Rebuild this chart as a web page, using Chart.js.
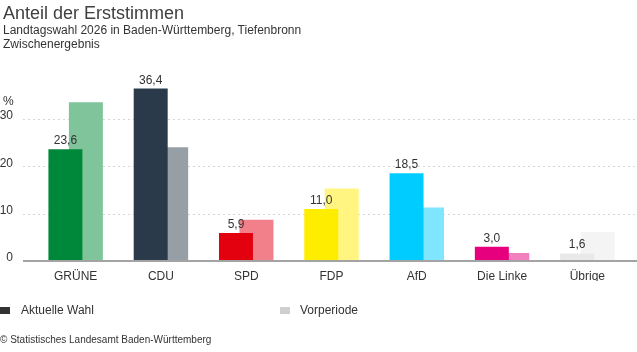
<!DOCTYPE html>
<html>
<head>
<meta charset="utf-8">
<script src="https://cdn.jsdelivr.net/npm/chart.js@4"></script>
<style>
    body { margin: 0; background: #fff; font-family: "Liberation Sans", Arial, sans-serif; color: #333; }
    #wrap { position: relative; width: 637px; height: 352px; overflow: hidden; }
    #chart { position: absolute; left: 0; top: 0; }
    .txt { position: absolute; white-space: nowrap; }
    .sq { position: absolute; width: 10px; height: 7px; }
</style>
</head>
<body>
<div id="wrap">
    <canvas id="chart" width="637" height="352"></canvas>
    <div class="txt" style="left:3px; top:3px; font-size:18px; line-height:20px; color:#404040;">Anteil der Erststimmen</div>
    <div class="txt" style="left:3px; top:23px; font-size:12px; line-height:14px;">Landtagswahl 2026 in Baden-Württemberg, Tiefenbronn</div>
    <div class="txt" style="left:3px; top:37px; font-size:12px; line-height:14px;">Zwischenergebnis</div>
    <div class="txt" style="left:3px; top:94px; font-size:12px; line-height:14px;">%</div>
    <div class="sq" style="left:0px; top:307px; background:#333;"></div>
    <div class="txt" style="left:21px; top:303px; font-size:12px; line-height:14px;">Aktuelle Wahl</div>
    <div class="sq" style="left:280px; top:307px; background:#cfcfcf;"></div>
    <div class="txt" style="left:300px; top:303px; font-size:12px; line-height:14px;">Vorperiode</div>
    <div class="txt" style="left:0px; top:334px; font-size:10px; line-height:12px;">© Statistisches Landesamt Baden-Württemberg</div>
</div>
<script>
    // Parteien und Ergebnisse (Erststimmen in %)
    const parties = ['GRÜNE', 'CDU', 'SPD', 'FDP', 'AfD', 'Die Linke', 'Übrige'];
    const currentShare = [23.6, 36.4, 5.9, 11.0, 18.5, 3.0, 1.6];
    const previousShare = [33.5, 24.0, 8.7, 15.3, 11.3, 1.7, 6.1];
    const yTicks = [0, 10, 20, 30];

    const currentColors = ['#00883a', '#2b3a4a', '#e3000f', '#ffed00', '#00ccff', '#e6007e', '#e9e9e9'];
    const previousColors = ['#80c49c', '#969ea6', '#f1808a', '#fff580', '#80e5ff', '#f280be', '#f4f4f4'];

    const fmt = v => v.toFixed(1).replace('.', ',');

    // Gitterlinien und Grundlinie selbst zeichnen (beginnen links vor der Chart-Fläche)
    const gridPlugin = {
        id: 'gridLines',
        beforeDatasetsDraw(chart) {
            const ctx = chart.ctx;
            const y = chart.scales.y;
            ctx.save();
            ctx.strokeStyle = '#d6d6d6';
            ctx.lineWidth = 1;
            ctx.setLineDash([2, 3]);
            yTicks.forEach(t => {
                if (t === 0) return;
                const py = Math.round(y.getPixelForValue(t)) + 0.5;
                ctx.beginPath();
                ctx.moveTo(23, py);
                ctx.lineTo(chart.width, py);
                ctx.stroke();
            });
            ctx.restore();
        },
        afterDatasetsDraw(chart) {
            const ctx = chart.ctx;
            const y = chart.scales.y;
            const py = y.getPixelForValue(0);
            ctx.save();
            ctx.strokeStyle = '#a3a3a3';
            ctx.lineWidth = 2;
            ctx.beginPath();
            ctx.moveTo(23, py);
            ctx.lineTo(chart.width, py);
            ctx.stroke();

            // Werte über den aktuellen Balken
            ctx.fillStyle = '#333';
            ctx.font = '12px "Liberation Sans", Arial, sans-serif';
            ctx.textAlign = 'center';
            ctx.textBaseline = 'alphabetic';
            chart.getDatasetMeta(0).data.forEach((bar, i) => {
                ctx.fillText(fmt(currentShare[i]), bar.x, bar.y - 5);
            });
            ctx.restore();
        }
    };

    new Chart(document.getElementById('chart').getContext('2d'), {
        type: 'bar',
        data: {
            labels: parties,
            datasets: [
                {
                    label: 'Aktuelle Wahl',
                    data: currentShare,
                    backgroundColor: currentColors
                },
                {
                    label: 'Vorperiode',
                    data: previousShare,
                    backgroundColor: previousColors
                }
            ]
        },
        options: {
            responsive: false,
            animation: false,
            events: [],
            categoryPercentage: 0.48,
            barPercentage: 1.66,
            layout: { padding: { top: 81, right: 7, bottom: 71, left: 0 } },
            plugins: {
                legend: { display: false },
                tooltip: { enabled: false }
            },
            scales: {
                x: {
                    grid: { display: false, drawTicks: false },
                    border: { display: false },
                    ticks: {
                        color: '#333',
                        padding: 8,
                        font: { family: '"Liberation Sans", Arial, sans-serif', size: 12 }
                    },
                    afterFit(scale) { scale.height = 20; }
                },
                y: {
                    min: 0,
                    max: 38,
                    grid: { display: false, drawTicks: false },
                    border: { display: false },
                    ticks: {
                        stepSize: 10,
                        color: '#333',
                        padding: 20,
                        labelOffset: -3,
                        font: { family: '"Liberation Sans", Arial, sans-serif', size: 12 },
                        callback: v => (yTicks.includes(v) ? v : '')
                    },
                    afterFit(scale) { scale.width = 33; }
                }
            }
        },
        plugins: [gridPlugin]
    });
</script>
</body>
</html>
